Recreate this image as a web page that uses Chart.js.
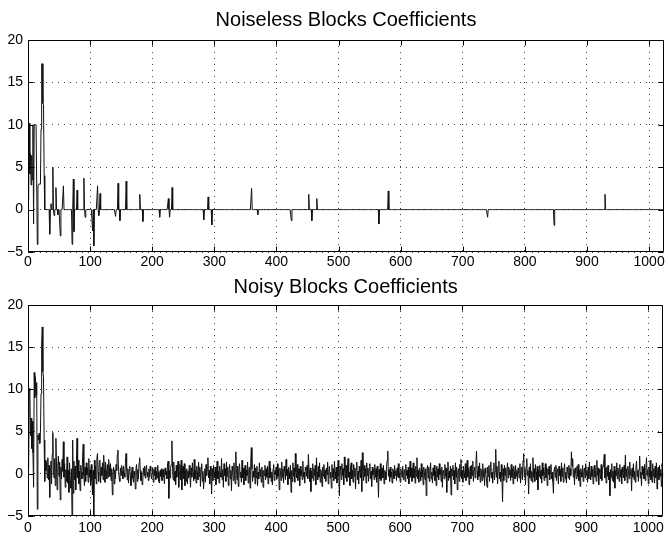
<!DOCTYPE html>
<html><head><meta charset="utf-8">
<script src="https://cdn.jsdelivr.net/npm/chart.js@4"></script>
<style>
html,body{margin:0;padding:0;background:#fff;}
#wrap{position:relative;width:668px;height:538px;overflow:hidden;}
canvas{position:absolute;left:0;}
#c1{top:0;}
#c2{top:268px;}
</style></head><body>
<div id="wrap">
<canvas id="c1" width="668" height="268"></canvas>
<canvas id="c2" width="668" height="270"></canvas>
</div>
<script>
// ---- data ----
const titles = ["Noiseless Blocks Coefficients", "Noisy Blocks Coefficients"];
const xTicks = [0,100,200,300,400,500,600,700,800,900,1000];
const yTicks = [-5,0,5,10,15,20];
const nCoefs = 1024;
// coarse (scaling) coefficients, indices 1..32
const coarseCoefs = [1.0,10.2,4.2,6.6,2.9,6.4,3.5,10.0,-1.7,10.0,10.0,10.0,10.0,10.0,-4.1,2.8,
  3.0,3.0,3.0,3.0,9.5,17.2,17.2,12.5,12.4,4.0,0,0,0,0,0,0];
// nonzero detail coefficients (index, value); all other details are 0
const spikeIndex = [35,37,40,42,45,48,52,57,71,73,74,79,90,92,104,106,112,114,116,141,145,148,158,180,185,212,226,228,232,283,290,296,360,370,424,452,457,465,565,580,740,847,929];
const spikeValue = [-2.9,0.7,5.0,-0.7,2.6,-0.6,-3.1,2.8,-4.1,3.6,-2.6,2.3,3.7,-0.9,-2.5,-4.3,2.8,-0.7,1.9,-0.8,3.1,-1.3,3.35,1.8,-1.4,-0.9,1.3,-0.9,2.6,-1.2,1.5,-1.8,2.5,-0.6,-1.3,1.8,-1.3,1.3,-1.7,2.2,-0.9,-1.85,1.8];
// noisy coefficients, indices 1..1024
const noisyCoefs = [
0.5,10.1,9.8,4.5,6.6,3.0,6.2,2.5,-1.6,12.0,9.0,11.5,9.3,10.8,-4.2,4.6,
4.0,4.8,3.6,4.8,9.5,15.5,17.4,12.1,11.5,4.0,-0.9,1.6,0.4,1.3,-0.5,1.9,
-0.7,1.0,-2.8,0.6,1.5,-1.2,2.3,4.9,0.2,-0.5,1.8,-1.4,4.2,0.7,-1.9,0.9,
2.1,-0.3,1.4,-3.1,0.8,-0.6,1.7,0.3,3.8,-0.4,1.2,-1.6,0.5,-0.9,2.0,-1.1,
0.4,-2.2,1.3,-0.8,-1.7,0.6,-5.0,4.0,-2.3,1.5,-0.7,0.9,-1.9,1.1,4.2,-0.5,
1.6,-1.2,0.3,-2.0,1.0,0.2,-0.6,1.9,3.5,-0.3,-1.4,0.8,-0.9,1.3,-0.1,0.7,
-1.0,1.8,-0.4,0.5,-1.3,1.1,-0.8,-2.5,0.4,-5.0,1.6,-0.6,0.9,-1.2,1.8,2.4,
0.2,-0.9,1.5,1.6,-1.1,0.8,-0.2,1.3,-0.7,2.2,0.6,-1.0,1.4,0.3,-0.6,1.1,
-0.4,1.7,0.9,-0.3,1.2,-0.8,0.6,-2.5,-0.2,0.8,-1.2,0.5,-0.6,1.1,0.4,2.3,
2.8,0.3,-0.5,-0.9,0.7,-0.2,1.0,0.3,-0.6,0.9,0.1,-0.4,1.2,2.4,0.5,-0.7,
0.6,-1.1,0.4,0.9,-0.3,-1.4,0.2,0.8,-0.5,-1.0,0.3,-0.2,-1.8,0.6,1.1,-0.9,
0.5,-0.6,1.3,1.9,0.4,-0.8,0.2,-1.3,-0.9,0.7,-0.2,0.9,-0.5,0.4,1.0,-0.3,
0.2,-0.8,0.6,-0.4,0.9,0.3,-0.6,0.1,0.7,-1.0,0.5,-0.2,0.8,-0.7,0.3,-0.5,
1.0,0.2,-0.9,-1.1,0.4,-0.3,0.6,-0.8,0.2,0.5,-0.4,-1.2,0.7,-0.1,0.3,-0.6,
1.2,1.5,-2.9,0.4,-0.5,0.8,1.1,3.9,0.6,-0.7,1.4,-0.9,0.3,-1.3,1.0,-0.4,
0.8,1.5,-1.6,0.2,1.1,-0.7,1.6,-1.9,0.5,0.9,-0.6,1.2,-1.4,0.4,-0.9,0.6,
-1.2,0.3,-0.5,1.0,-0.2,-1.6,0.7,-0.4,1.3,0.1,-0.8,1.7,-0.6,0.4,-1.1,0.9,
0.2,-0.7,1.4,-0.3,0.8,-1.5,0.5,1.2,-0.9,0.3,-1.8,-0.4,0.6,-1.0,1.1,-0.2,
0.7,1.9,-0.5,0.4,-1.2,0.9,-0.3,-2.4,0.6,-0.8,1.0,0.2,-0.5,0.8,-1.3,0.4,
1.5,-0.6,0.3,-1.1,0.9,0.1,-0.4,1.8,-0.7,0.5,-1.6,1.2,-0.2,0.6,-0.9,1.4,
-0.3,0.8,-1.4,0.2,1.1,-0.6,0.4,-2.0,0.9,0.3,-0.8,1.3,-0.1,-1.2,2.6,0.5,
-0.7,0.9,-1.5,0.6,1.2,-0.4,0.2,-1.0,1.6,-0.5,0.7,-1.3,0.3,1.0,-0.8,0.4,
-0.2,1.4,-1.1,0.5,0.8,-1.7,1.2,3.1,0.6,-0.9,0.3,-0.4,1.1,-1.2,0.7,-0.5,
0.9,-1.4,0.2,-0.6,1.3,-0.3,0.5,-1.0,0.8,0.1,-1.6,0.4,-0.2,1.0,-0.7,0.6,
-0.4,0.9,-1.2,0.3,1.5,-0.5,0.7,-0.9,0.2,-1.3,0.6,1.1,-0.8,0.4,-0.1,0.8,
-0.6,1.2,-0.3,0.5,-1.9,0.7,0.2,-0.8,1.4,-0.4,0.6,-1.1,0.9,0.3,-0.7,1.7,
-0.2,0.5,-1.3,0.8,0.1,-0.6,1.0,-2.2,0.4,-0.9,1.3,-0.3,0.7,-1.0,2.4,0.2,
-0.5,1.1,-0.8,0.3,0.6,-1.4,0.9,-0.2,0.4,-0.7,1.5,-0.4,0.2,-1.1,0.8,0.5,
-0.3,1.0,-0.6,2.3,0.4,-0.9,0.7,-2.1,0.3,-0.5,1.2,-0.8,0.6,-0.2,1.0,-1.3,
1.9,0.2,-0.7,0.9,-0.4,1.3,-1.0,0.5,0.1,-1.5,0.8,-0.3,1.1,-0.6,0.4,-0.9,
0.7,-0.1,1.4,-1.2,0.3,0.9,-0.5,0.2,-1.7,1.1,-0.4,0.6,-0.8,1.5,0.2,-0.6,
0.8,-1.1,0.4,1.6,-0.3,-2.6,0.9,0.5,-0.7,1.2,-0.2,0.6,-1.3,2.0,0.3,-0.5,
1.0,-0.9,0.6,1.8,-0.4,0.2,-1.4,0.8,1.3,-0.6,0.4,-1.0,1.1,-0.3,0.7,-1.8,
0.5,1.4,-0.7,0.3,-1.2,0.9,0.2,-0.5,1.6,-2.1,2.5,0.4,-0.8,1.0,-0.3,0.6,
-1.1,1.3,-0.2,0.7,-0.9,0.4,1.2,-0.6,0.3,-1.5,0.8,-0.1,0.5,-0.7,1.1,-0.4,
0.6,-1.0,0.9,-0.3,-2.8,0.5,-0.6,1.2,-0.8,0.3,0.7,-0.5,1.0,-1.2,0.4,0.2,
-0.7,0.9,1.6,2.7,-0.3,0.5,-0.9,0.8,-0.4,0.2,-1.1,0.6,0.3,-0.6,1.0,-0.2,
0.4,-0.8,0.7,-0.3,1.2,-0.5,0.1,-1.0,0.6,0.3,-0.4,0.9,-0.7,0.2,0.5,-0.9,
1.1,-0.2,0.4,-0.6,0.8,-1.2,0.3,1.5,-0.4,0.7,-0.9,0.2,1.3,-0.5,0.6,-1.1,
0.9,-0.3,1.9,-0.6,0.4,-1.0,0.7,0.2,-0.8,1.2,-0.4,0.5,-1.3,0.8,0.1,-0.7,
0.6,-2.6,0.3,1.0,-0.5,0.8,-0.9,0.4,1.3,-0.6,0.2,-1.1,0.7,-0.2,1.0,-0.8,
0.3,-1.4,0.9,-0.4,0.6,-0.7,1.2,-0.1,0.5,-0.9,0.8,-1.6,0.4,0.2,-0.6,1.1,
-0.3,0.7,-2.2,0.5,1.4,-0.8,0.3,-0.5,0.9,-2.5,0.6,-0.2,1.0,-0.7,0.4,-1.2,
1.3,-0.4,0.8,-1.9,0.2,0.6,-0.9,1.1,-0.3,1.7,-0.6,0.4,-1.0,0.9,0.1,-0.5,
1.2,-0.8,0.5,1.6,-0.4,0.7,-1.3,0.3,0.9,-0.6,1.0,-0.2,1.5,-0.9,0.4,0.8,
-0.5,1.1,2.7,0.3,-0.7,0.9,-0.3,1.3,-1.0,0.6,0.2,-0.8,1.2,-0.4,0.5,-1.4,
0.7,0.1,-0.6,-1.6,0.8,-0.3,1.0,-0.9,0.4,1.4,-0.5,0.2,-1.1,0.6,1.3,-0.7,
0.3,2.9,-0.4,0.9,-1.2,0.5,1.5,-0.6,0.2,-0.9,1.1,-0.3,-3.3,0.6,-0.8,1.0,
-0.2,0.7,-1.0,0.4,1.3,-0.5,0.8,-0.1,0.5,-0.8,1.1,-0.4,0.6,-1.2,0.9,0.2,
-0.6,1.0,-0.3,0.4,-0.9,0.7,0.1,-0.5,1.2,-1.1,0.3,0.8,-0.7,1.6,2.4,-0.4,
0.6,-1.3,0.9,1.8,-0.2,0.4,-2.4,0.8,-0.5,1.2,-0.8,0.3,-1.0,1.9,-0.4,0.6,
-0.9,1.1,0.2,-0.7,0.9,-1.9,0.5,-0.3,1.0,-0.6,0.4,-1.1,1.3,-0.2,0.7,-0.8,
0.3,1.2,-0.5,0.8,-1.4,0.6,-0.1,0.9,-0.7,0.4,1.1,-0.6,0.2,-0.9,-2.3,0.5,
0.8,-0.4,1.0,-0.8,0.3,0.6,-1.2,0.9,-0.2,0.5,-0.9,1.3,-0.3,0.7,-1.0,0.4,
1.2,-0.6,0.2,-1.1,0.8,0.3,-0.5,1.0,-0.7,0.6,-0.2,2.6,0.9,1.8,-0.4,0.5,
-1.3,0.7,0.1,-0.6,0.9,-0.3,1.1,-0.8,0.4,-1.5,0.6,0.2,-0.4,1.0,-0.9,0.3,
0.7,-0.5,1.2,-0.2,0.4,-1.0,0.8,-0.6,1.4,0.1,-0.7,0.9,-0.3,0.5,-1.2,0.6,
1.0,-0.4,0.3,-0.9,1.6,-0.2,0.7,-1.3,0.5,0.2,-0.6,1.1,-0.8,0.4,0.9,1.4,
2.3,-0.5,0.6,-1.1,0.8,-0.3,1.0,-0.7,0.2,-2.6,0.5,-0.4,1.2,-0.8,0.3,-1.0,
0.9,-1.7,0.4,-0.2,1.3,-0.6,0.7,0.1,-0.9,1.1,-0.4,0.5,-1.2,0.8,0.2,-0.5,
1.0,-0.8,2.2,-0.3,0.6,-1.1,0.9,0.3,-0.6,1.4,-0.2,0.5,-2.0,0.7,-0.4,1.2,
-0.7,0.3,-1.0,0.8,1.5,-0.3,0.4,-0.9,0.6,2.1,-0.5,0.2,-1.4,0.9,-0.1,0.7,
-0.6,1.1,-0.8,0.4,1.9,-0.2,0.5,-1.2,0.8,-0.4,1.6,-0.7,0.3,-1.0,1.2,-0.3,
0.6,-1.1,0.9,-0.5,1.3,-1.8,0.4,0.8,-0.7,1.0,-0.3,0.5,-1.5,1.2,0.6,-0.4
];

// ---- build noiseless series from its parts ----
const noiseless = new Array(nCoefs).fill(0);
coarseCoefs.forEach((v,i)=>{ noiseless[i] = v; });
spikeIndex.forEach((idx,k)=>{ noiseless[idx-1] = spikeValue[k]; });

const FONT = "'Liberation Sans', Arial, Helvetica, sans-serif";

const framePlugin = {
  id: 'matlabFrame',
  afterDraw(chart, args, opts) {
    const ctx = chart.ctx, a = chart.chartArea;
    const xs = chart.scales.x, ys = chart.scales.y;
    ctx.save();
    ctx.strokeStyle = '#000';
    ctx.lineWidth = 1;
    ctx.setLineDash([]);
    const L = Math.round(a.left) + 0.5, R = Math.round(a.right) - 0.5;
    const T = Math.round(a.top) + 0.5, B = Math.round(a.bottom) - 0.5;
    ctx.beginPath();
    ctx.rect(L, T, R - L, B - T);
    const tl = 5;
    xTicks.forEach(v => {
      const px = Math.round(xs.getPixelForValue(v)) + 0.5;
      ctx.moveTo(px, B); ctx.lineTo(px, B - tl);
      ctx.moveTo(px, T); ctx.lineTo(px, T + tl);
    });
    yTicks.forEach(v => {
      const py = Math.round(ys.getPixelForValue(v)) + 0.5;
      ctx.moveTo(L, py); ctx.lineTo(L + tl, py);
      ctx.moveTo(R, py); ctx.lineTo(R - tl, py);
    });
    ctx.stroke();
    ctx.fillStyle = '#000';
    ctx.font = '20px ' + FONT;
    ctx.textAlign = 'center';
    ctx.textBaseline = 'middle';
    ctx.fillText(opts.title, (a.left + a.right) / 2, opts.titleY);
    ctx.restore();
  }
};

function makeChart(id, title, values, padTop, xAxisH, titleY, xPad) {
  return new Chart(document.getElementById(id), {
    type: 'line',
    data: { datasets: [{
      data: values.map((v, i) => ({ x: i + 1, y: v })),
      borderColor: '#111', borderWidth: 1, pointRadius: 0, tension: 0, fill: false
    }]},
    options: {
      responsive: false, animation: false, devicePixelRatio: 1,
      layout: { padding: { top: padTop, right: 4, left: 0, bottom: 0 } },
      plugins: { legend: { display: false }, tooltip: { enabled: false }, title: { display: false },
        matlabFrame: { title: title, titleY: titleY } },
      scales: {
        x: {
          type: 'linear', min: 0, max: nCoefs,
          afterBuildTicks: s => { s.ticks = xTicks.map(v => ({ value: v })); },
          afterFit: s => { s.height = xAxisH; },
          grid: { color: '#444', lineWidth: 1, drawTicks: false },
          border: { display: false, dash: [1, 5] },
          ticks: { color: '#000', font: { family: FONT, size: 14 }, padding: xPad, maxRotation: 0, autoSkip: false,
            callback: v => String(v) }
        },
        y: {
          type: 'linear', min: -5, max: 20,
          afterBuildTicks: s => { s.ticks = yTicks.map(v => ({ value: v })); },
          afterFit: s => { s.width = 28; },
          grid: { color: '#444', lineWidth: 1, drawTicks: false },
          border: { display: false, dash: [1, 5] },
          ticks: { color: '#000', font: { family: FONT, size: 14 }, padding: 5,
            callback: v => (v < 0 ? '\u2212' + Math.abs(v) : String(v)) }
        }
      }
    },
    plugins: [framePlugin]
  });
}

makeChart('c1', titles[0], noiseless, 40, 16, 20, 2);
makeChart('c2', titles[1], noisyCoefs, 37, 22, 19, 4);
</script>
</body></html>
